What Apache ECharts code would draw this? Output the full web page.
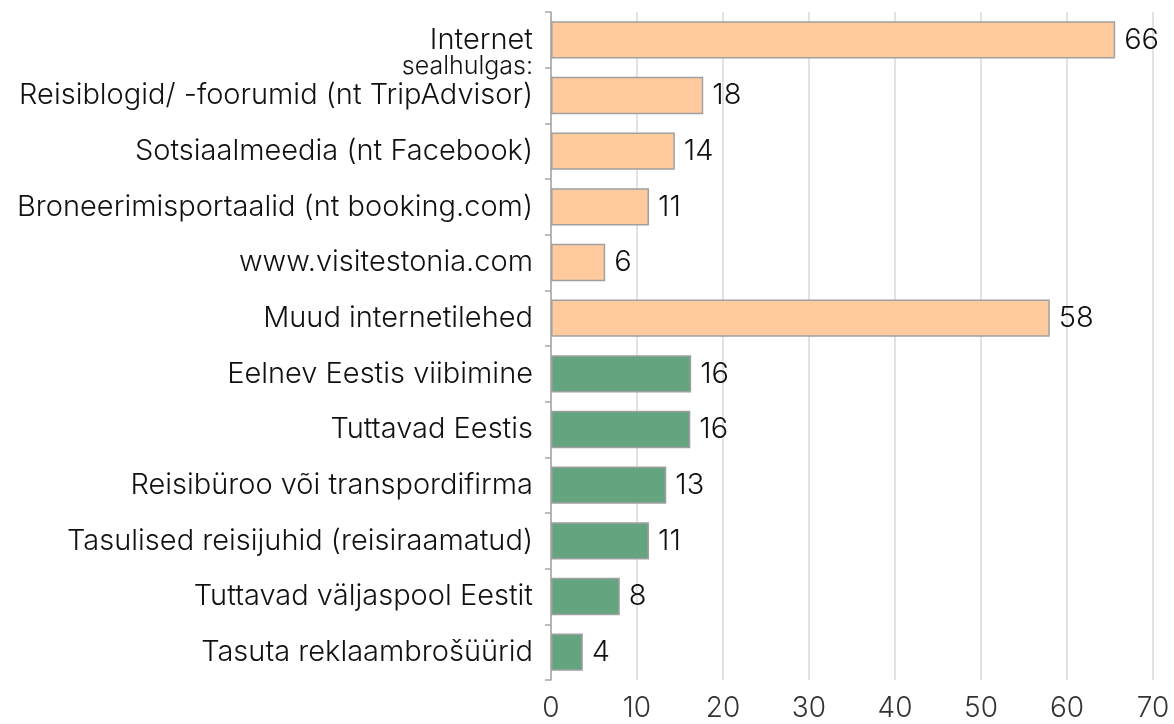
<!DOCTYPE html>
<html>
<head>
<meta charset="utf-8">
<script src="https://cdn.jsdelivr.net/npm/echarts@6/dist/echarts.min.js"></script>
<style>
html, body { margin: 0; padding: 0; background: #fff; }
#main { width: 1174px; height: 724px; }
</style>
</head>
<body>
<div id="main"></div>
<script>
// categories top to bottom
var categories = [
    'Internet',
    'Reisiblogid/ -foorumid (nt TripAdvisor)',
    'Sotsiaalmeedia (nt Facebook)',
    'Broneerimisportaalid (nt booking.com)',
    'www.visitestonia.com',
    'Muud internetilehed',
    'Eelnev Eestis viibimine',
    'Tuttavad Eestis',
    'Reisibüroo või transpordifirma',
    'Tasulised reisijuhid (reisiraamatud)',
    'Tuttavad väljaspool Eestit',
    'Tasuta reklaambrošüürid'
];
var values = [65.6, 17.7, 14.4, 11.4, 6.3, 58.0, 16.3, 16.2, 13.4, 11.4, 8.0, 3.7];
var internetCount = 6; // first 6 rows are internet sources
var xTicks = [0, 70, 10];

var peach = '#FFCA9E';
var green = '#64A47E';
var font = 'Inter';

var myChart = echarts.init(document.getElementById('main'));

var data = values.map(function (v, i) {
    return {
        value: v,
        itemStyle: { color: i < internetCount ? peach : green }
    };
});

var option = {
    animation: false,
    grid: {
        left: 551,
        right: 21,
        top: 12,
        bottom: 44,
        containLabel: false
    },
    xAxis: {
        type: 'value',
        min: xTicks[0],
        max: xTicks[1],
        interval: xTicks[2],
        position: 'bottom',
        axisLine: { show: false },
        axisTick: { show: false },
        splitLine: { lineStyle: { color: '#D9D9D9', width: 1.5 } },
        axisLabel: {
            color: '#333',
            fontFamily: font,
            fontWeight: 300,
            fontSize: 28,
            margin: 15
        }
    },
    yAxis: {
        type: 'category',
        inverse: true,
        data: categories,
        axisLine: { show: true, lineStyle: { color: '#A6A6A6', width: 1.5 } },
        axisTick: { show: true, length: 6, lineStyle: { color: '#A6A6A6', width: 1.5 } },
        axisLabel: {
            color: '#111',
            fontFamily: font,
            fontWeight: 300,
            fontSize: 29,
            margin: 18
        }
    },
    series: [
        {
            type: 'bar',
            data: data,
            barCategoryGap: '33%',
            itemStyle: {
                borderColor: '#A0A0A0',
                borderWidth: 1.5
            },
            label: {
                show: true,
                position: 'right',
                distance: 9,
                color: '#111',
                fontFamily: font,
                fontWeight: 300,
                fontSize: 29,
                formatter: function (p) {
                    return Math.round(p.value);
                }
            }
        }
    ]
};
myChart.setOption(option);

// small "sealhulgas:" note below the Internet label
var p0 = myChart.convertToPixel({ gridIndex: 0 }, [0, 0]);
var p1 = myChart.convertToPixel({ gridIndex: 0 }, [0, 1]);
myChart.setOption({
    graphic: [
        {
            type: 'text',
            x: p0[0] - 18,
            y: (p0[1] + p1[1]) / 2 - 1,
            style: {
                text: 'sealhulgas:',
                fill: '#111',
                font: '300 25px ' + font,
                textAlign: 'right',
                textVerticalAlign: 'middle'
            }
        }
    ]
});
</script>
</body>
</html>
